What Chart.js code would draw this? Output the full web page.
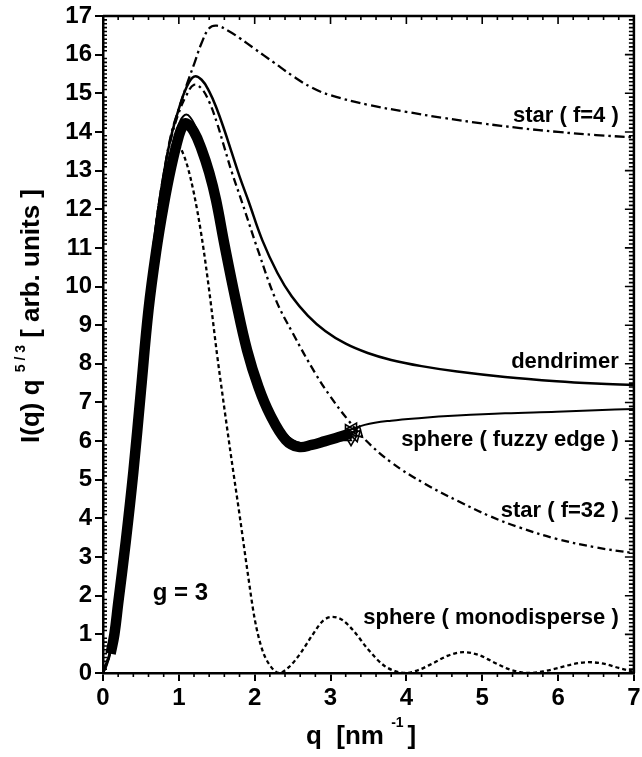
<!DOCTYPE html>
<html>
<head>
<meta charset="utf-8">
<script src="https://cdn.jsdelivr.net/npm/chart.js@4.4.0/dist/chart.umd.min.js"></script>
<style>
  html, body { margin: 0; padding: 0; background: #fff; }
  #wrap { width: 642px; height: 757px; }
</style>
</head>
<body>
<div id="wrap"><canvas id="chart" width="642" height="757"></canvas></div>
<script>
// values: q in nm^-1, I(q) q^(5/3) in arb. units
const qStar4 = [0, 0.1, 0.2, 0.3, 0.4, 0.5, 0.6, 0.7, 0.8, 0.9, 1.0, 1.1, 1.2, 1.3, 1.4, 1.5, 1.65, 1.8, 2.0, 2.25, 2.5, 2.75, 3.0, 3.5, 4.0, 4.5, 5.0, 5.5, 6.0, 6.5, 7.0];
const iStar4 = [0, 0.6, 2.0, 3.7, 5.7, 7.8, 9.8, 11.6, 12.9, 13.95, 14.6, 15.2, 15.75, 16.3, 16.68, 16.75, 16.62, 16.43, 16.15, 15.8, 15.45, 15.15, 14.95, 14.7, 14.52, 14.36, 14.22, 14.1, 14.0, 13.92, 13.86];

const qDendrimer = [0, 0.1, 0.2, 0.3, 0.4, 0.5, 0.6, 0.7, 0.8, 0.9, 1.0, 1.1, 1.2, 1.3, 1.4, 1.5, 1.6, 1.7, 1.8, 1.92, 2.1, 2.3, 2.49, 2.7, 2.93, 3.2, 3.49, 3.8, 4.2, 4.67, 5.3, 5.98, 6.5, 7.0];
const iDendrimer = [0, 0.6, 2.0, 3.7, 5.7, 7.8, 9.8, 11.6, 12.9, 13.9, 14.6, 15.15, 15.43, 15.35, 15.05, 14.6, 14.05, 13.45, 12.85, 12.2, 11.2, 10.35, 9.74, 9.25, 8.85, 8.52, 8.28, 8.1, 7.94, 7.8, 7.66, 7.55, 7.49, 7.45];

const qStar32 = [0, 0.1, 0.2, 0.3, 0.4, 0.5, 0.6, 0.7, 0.8, 0.9, 1.0, 1.1, 1.2, 1.3, 1.4, 1.5, 1.6, 1.7, 1.83, 2.05, 2.28, 2.5, 2.8, 3.0, 3.23, 3.45, 3.8, 4.24, 4.7, 5.1, 5.5, 5.98, 6.5, 7.0];
const iStar32 = [0, 0.6, 2.0, 3.7, 5.7, 7.8, 9.8, 11.6, 12.9, 13.85, 14.5, 14.95, 15.22, 15.12, 14.78, 14.25, 13.6, 12.95, 12.2, 10.9, 9.65, 8.8, 7.75, 7.15, 6.55, 6.05, 5.45, 4.9, 4.43, 4.06, 3.76, 3.47, 3.25, 3.1];

const qFuzzy = [0, 0.05, 0.1, 0.2, 0.3, 0.4, 0.5, 0.6, 0.7, 0.8, 0.9, 1.0, 1.08, 1.15, 1.25, 1.4, 1.6, 1.8, 2.0, 2.2, 2.4, 2.6, 2.8, 3.0, 3.2, 3.45, 3.8, 4.2, 4.67, 5.3, 5.98, 6.5, 7.0];
const iFuzzy = [0, 0.2, 0.55, 1.9, 3.5, 5.4, 7.5, 9.5, 11.1, 12.4, 13.5, 14.2, 14.44, 14.38, 14.0, 13.1, 11.3, 9.3, 7.8, 6.85, 6.2, 5.95, 6.0, 6.1, 6.25, 6.42, 6.53, 6.6, 6.66, 6.72, 6.76, 6.8, 6.83];

// the dense run of open markers (fuzzy-edge sphere data)
const qFuzzyData = [0.1, 0.15, 0.2, 0.3, 0.4, 0.5, 0.6, 0.7, 0.8, 0.9, 1.0, 1.05, 1.1, 1.2, 1.3, 1.4, 1.49, 1.6, 1.75, 1.9, 2.05, 2.2, 2.41, 2.58, 2.75, 2.93, 3.1, 3.27];
const iFuzzyData = [0.5, 1.0, 1.8, 3.4, 5.2, 7.3, 9.4, 10.9, 12.1, 13.1, 13.9, 14.15, 14.22, 14.0, 13.55, 12.95, 12.24, 11.1, 9.65, 8.35, 7.4, 6.7, 6.03, 5.85, 5.9, 6.0, 6.1, 6.2];
const qFuzzyTail = [3.2, 3.24, 3.27, 3.3, 3.33, 3.36];
const iFuzzyTail = [6.1, 6.28, 6.05, 6.32, 6.15, 6.22];

const qMono = [0, 0.1, 0.2, 0.3, 0.4, 0.5, 0.6, 0.7, 0.8, 0.9, 0.95, 1.0, 1.1, 1.2, 1.3, 1.4, 1.5, 1.6, 1.7, 1.8, 1.9, 2.0, 2.1, 2.2, 2.32, 2.45, 2.6, 2.75, 2.9, 3.02, 3.15, 3.3, 3.5, 3.7, 3.85, 3.99, 4.15, 4.35, 4.55, 4.75, 4.95, 5.15, 5.35, 5.5, 5.62, 5.8, 6.0, 6.2, 6.4, 6.6, 6.8, 7.0];
const iMono = [0, 0.6, 2.0, 3.7, 5.7, 7.8, 9.7, 11.4, 12.7, 13.5, 13.7, 13.65, 13.2, 12.4, 11.3, 9.9, 8.3, 6.85, 5.45, 4.1, 2.7, 1.4, 0.6, 0.2, 0.0, 0.15, 0.5, 0.95, 1.35, 1.45, 1.38, 1.1, 0.6, 0.2, 0.05, 0.0, 0.07, 0.25, 0.45, 0.54, 0.47, 0.28, 0.1, 0.02, 0.0, 0.04, 0.13, 0.23, 0.28, 0.24, 0.13, 0.03];

const curveLabels = [
  { text: 'star ( f=4 )', q: 6.8, v: 14.42 },
  { text: 'dendrimer', q: 6.8, v: 8.05 },
  { text: 'sphere ( fuzzy edge )', q: 6.8, v: 6.02 },
  { text: 'star ( f=32 )', q: 6.8, v: 4.2 },
  { text: 'sphere ( monodisperse )', q: 6.8, v: 1.42 },
];

const FONT = "'Liberation Sans', Arial, Helvetica, sans-serif";

function pts(qs, vals) {
  return qs.map((q, i) => ({ x: q, y: vals[i] }));
}

function line(data, width, dash) {
  return {
    data,
    showLine: true,
    borderColor: '#000',
    borderWidth: width,
    borderDash: dash || [],
    pointRadius: 0,
    tension: 0.4,
    fill: false,
  };
}

function tickRun(scale, step, draw) {
  const n = Math.round((scale.max - scale.min) / step);
  for (let k = 0; k <= n; k++) {
    const v = scale.min + k * step;
    const major = Math.abs(v - Math.round(v)) < 1e-6;
    draw(scale.getPixelForValue(v), major);
  }
}

function drawRich(ctx, x, y, parts) {
  let cx = x;
  parts.forEach((p) => {
    ctx.font = p.font;
    ctx.fillText(p.text, cx, y + (p.dy || 0));
    cx += ctx.measureText(p.text).width;
  });
}

const framePlugin = {
  id: 'frame',
  afterDraw(chart) {
    const { ctx, chartArea: a, scales: { x, y } } = chart;
    ctx.save();
    ctx.strokeStyle = '#000';
    ctx.fillStyle = '#000';

    // top and right frame
    ctx.lineWidth = 2.5;
    ctx.beginPath();
    ctx.moveTo(a.left, a.top);
    ctx.lineTo(a.right, a.top);
    ctx.lineTo(a.right, a.bottom);
    ctx.stroke();

    ctx.lineWidth = 1.6;
    ctx.beginPath();
    tickRun(y, 0.1, (py, major) => {
      if (!major) { ctx.moveTo(a.left, py); ctx.lineTo(a.left + 4, py); }
      ctx.moveTo(a.right, py); ctx.lineTo(a.right - (major ? 9 : 5), py);
    });
    tickRun(x, 0.2, (px, major) => {
      ctx.moveTo(px, a.top); ctx.lineTo(px, a.top + (major ? 8 : 4));
      if (!major) { ctx.moveTo(px, a.bottom); ctx.lineTo(px, a.bottom + 4); }
    });
    ctx.stroke();

    // curve labels
    ctx.font = 'bold 22px ' + FONT;
    ctx.textAlign = 'right';
    ctx.textBaseline = 'middle';
    curveLabels.forEach((l) => {
      ctx.fillText(l.text, x.getPixelForValue(l.q), y.getPixelForValue(l.v));
    });
    ctx.textAlign = 'left';
    ctx.textBaseline = 'alphabetic';
    ctx.font = 'bold 24px ' + FONT;
    ctx.fillText('g = 3', x.getPixelForValue(0.655), y.getPixelForValue(1.88));

    // x title
    const big = 'bold 26px ' + FONT;
    const small = 'bold 14px ' + FONT;
    drawRich(ctx, 306, 744, [
      { text: 'q  [nm ', font: big },
      { text: '-1 ', font: small, dy: -17 },
      { text: ']', font: big },
    ]);

    // y title, rotated
    ctx.translate(39, 443);
    ctx.rotate(-Math.PI / 2);
    drawRich(ctx, 0, 0, [
      { text: 'I(q) q ', font: big },
      { text: '5 / 3', font: small, dy: -14 },
      { text: ' [ arb. units ]', font: big },
    ]);
    ctx.restore();
  },
};

const axisCommon = {
  type: 'linear',
  ticks: {
    stepSize: 1,
    color: '#000',
    font: { family: FONT, size: 24, weight: 'bold' },
    padding: 3,
  },
  grid: {
    drawOnChartArea: false,
    drawTicks: true,
    tickLength: 8,
    color: '#000',
    lineWidth: 2,
  },
  border: { display: true, color: '#000', width: 2.5 },
};

const monoLine = Object.assign(line(pts(qMono, iMono), 2.3, [4, 3]), { tension: 0, cubicInterpolationMode: 'monotone' });

new Chart(document.getElementById('chart'), {
  type: 'scatter',
  data: {
    datasets: [
      line(pts(qFuzzy, iFuzzy), 2),
      line(pts(qDendrimer, iDendrimer), 2.5),
      line(pts(qStar4, iStar4), 2.3, [10, 4, 2.5, 4]),
      line(pts(qStar32, iStar32), 2.3, [8, 4, 2.5, 4]),
      monoLine,
      {
        data: pts(qFuzzyTail, iFuzzyTail),
        showLine: false,
        pointStyle: 'triangle',
        pointRadius: 6.5,
        pointRotation: [0, 90, 180, 270, 45, 135],
        pointBackgroundColor: 'rgba(255,255,255,0)',
        pointBorderColor: '#000',
        pointBorderWidth: 1.6,
        order: 5,
      },
      Object.assign(line(pts(qFuzzyData, iFuzzyData), 10.5), { borderCapStyle: 'butt', order: 10 }),
    ],
  },
  options: {
    responsive: false,
    animation: false,
    devicePixelRatio: 1,
    layout: { padding: { top: 16, right: 4, left: 0, bottom: 0 } },
    plugins: { legend: { display: false }, tooltip: { enabled: false } },
    scales: {
      x: Object.assign({}, axisCommon, {
        min: 0, max: 7,
        afterFit: (s) => { s.height = 84; s.paddingLeft = 0; s.paddingRight = 0; },
      }),
      y: Object.assign({}, axisCommon, {
        min: 0, max: 17,
        afterFit: (s) => { s.width = 103; s.paddingTop = 0; s.paddingBottom = 0; },
      }),
    },
  },
  plugins: [framePlugin],
});
</script>
</body>
</html>
